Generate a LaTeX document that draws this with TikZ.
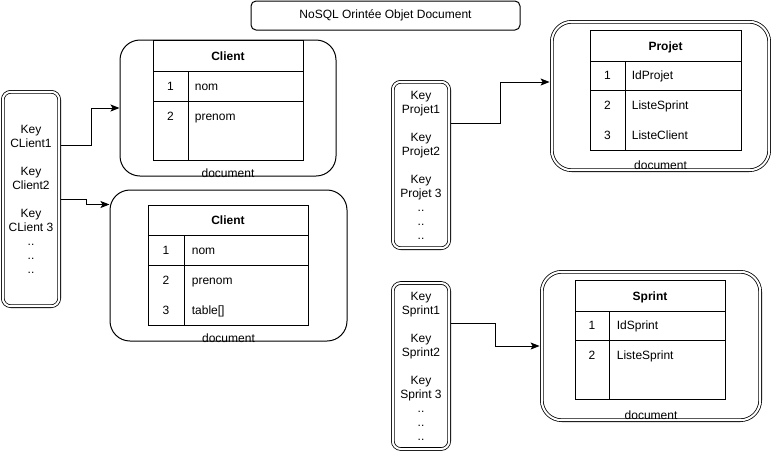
\documentclass[tikz,border=0pt]{standalone}
\usepackage{fontspec}
\setmainfont{Liberation Sans}
\usetikzlibrary{arrows.meta}

\begin{document}
\begin{tikzpicture}[x=1pt,y=-1pt,line width=1pt,
  font=\fontsize{12}{14}\selectfont,
  keybox/.style={draw,double,double distance=2pt,line width=0.8pt,rounded corners=8pt,align=center,inner sep=0pt,minimum width=56.4pt},
  docbox/.style={draw,rounded corners=20pt,inner sep=0pt},
  docboxx/.style={docbox,double,double distance=2pt,line width=0.8pt},
  cell/.style={text height=9pt,text depth=2.5pt,yshift=-1.5pt},
  hdr/.style={cell,font=\fontsize{12}{14}\selectfont\bfseries},
  link/.style={-{Stealth[length=9pt,width=7pt,inset=2pt]}}]
\useasboundingbox (0,0) rectangle (771,451);

\node[draw,rounded corners=5pt,minimum width=269pt,minimum height=29pt,inner sep=0pt] (title) at (385.5,15.5) {NoSQL Orintée Objet Document};

% keys
\node[keybox,minimum height=214.4pt] (kclient) at (31,199) {Key\\CLient1\\[14pt]Key\\Client2\\[14pt]Key\\CLient 3\\..\\..\\..};
\node[keybox,minimum height=166.4pt] (kprojet) at (421,165) {Key\\Projet1\\[14pt]Key\\Projet2\\[14pt]Key\\Projet 3\\..\\..\\..};
\node[keybox,minimum height=166pt] (ksprint) at (421,366) {Key\\Sprint1\\[14pt]Key\\Sprint2\\[14pt]Key\\Sprint 3\\..\\..\\..};

% documents
\node[docbox,minimum width=216pt,minimum height=136pt] (doc1) at (228,108) {};
\node[docbox,minimum width=237pt,minimum height=151pt] (doc2) at (228.5,265.5) {};
\node[docboxx,minimum width=217.4pt,minimum height=148.4pt] (dprojet) at (660.5,96) {};
\node[docboxx,minimum width=218.4pt,minimum height=148.4pt] (dsprint) at (651,346) {};

\node[cell] (ldoc1) at ([yshift=4pt]doc1.south) {document};
\node[cell] (ldoc2) at ([yshift=4pt]doc2.south) {document};
\node[cell] (lprojet) at ([yshift=5.5pt]dprojet.south) {document};
\node[cell] (lsprint) at ([yshift=5.5pt]dsprint.south) {document};

% Client (1)
\draw (153,40) rectangle (303,71) node[pos=.5,hdr] (c1h) {Client};
\draw (153,71) rectangle (303,101);
\draw (153,101) rectangle (303,160);
\draw (188,71) -- (188,160);
\node[cell] (c1n1) at (170.5,86) {1};
\node[cell,anchor=west] (c1f1) at (191,86) {nom};
\node[cell] (c1n2) at (170.5,116) {2};
\node[cell,anchor=west] (c1f2) at (191,116) {prenom};

% Client (2)
\draw (148,205) rectangle (308,235) node[pos=.5,hdr] (c2h) {Client};
\draw (148,235) rectangle (308,265);
\draw (148,265) rectangle (308,325);
\draw (184,235) -- (184,325);
\node[cell] (c2n1) at (166,250) {1};
\node[cell,anchor=west] (c2f1) at (188,250) {nom};
\node[cell] (c2n2) at (166,280) {2};
\node[cell,anchor=west] (c2f2) at (188,280) {prenom};
\node[cell] (c2n3) at (166,310) {3};
\node[cell,anchor=west] (c2f3) at (188,310) {table[]};

% Projet
\draw (590,30) rectangle (741,61) node[pos=.5,hdr] (ph) {Projet};
\draw (590,61) rectangle (741,90);
\draw (590,90) rectangle (741,150);
\draw (625,61) -- (625,150);
\node[cell] (pn1) at (607.5,75) {1};
\node[cell,anchor=west] (pf1) at (628,75) {IdProjet};
\node[cell] (pn2) at (607.5,105) {2};
\node[cell,anchor=west] (pf2) at (628,105) {ListeSprint};
\node[cell] (pn3) at (607.5,135) {3};
\node[cell,anchor=west] (pf3) at (628,135) {ListeClient};

% Sprint
\draw (575,280) rectangle (725,311) node[pos=.5,hdr] (sh) {Sprint};
\draw (575,311) rectangle (725,340);
\draw (575,340) rectangle (725,399);
\draw (609,311) -- (609,399);
\node[cell] (sn1) at (592,325) {1};
\node[cell,anchor=west] (sf1) at (613,325) {IdSprint};
\node[cell] (sn2) at (592,355) {2};
\node[cell,anchor=west] (sf2) at (613,355) {ListeSprint};

% links
\draw[link] ([shift={(1.8pt,54pt)}]kclient.east) -- ++(30,0) |- (doc1.west);
\draw[link] ([xshift=1.8pt]kclient.east) -- ++(25,0) |- ([yshift=-15pt]doc2.north west);
\draw[link] ([shift={(1.8pt,42pt)}]kprojet.east) -- ++(49,0) |- ([shift={(-1.8pt,14pt)}]dprojet.west);
\draw[link] ([shift={(1.8pt,43pt)}]ksprint.east) -- ++(44,0) |- ([xshift=-1.8pt]dsprint.west);
\end{tikzpicture}
\end{document}
